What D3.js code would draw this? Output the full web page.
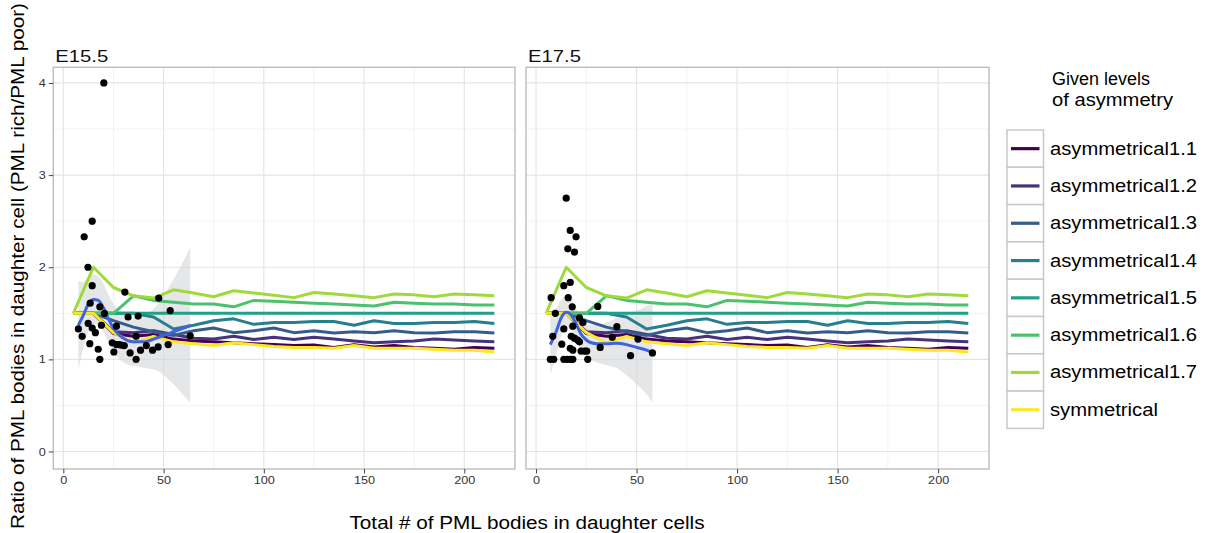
<!DOCTYPE html>
<html><head><meta charset="utf-8">
<script src="https://cdn.jsdelivr.net/npm/d3@7"></script>
<style>body{margin:0;background:#fff}svg{display:block}text{font-family:"Liberation Sans",Arial,sans-serif}</style>
</head><body><svg id="c" width="1207" height="533"></svg>
<script>
// ---------- data ----------
const totals = [5,15,25,35,45,55,65,75,85,95,105,115,125,135,145,155,165,175,185,195,205,215];
const seriesNames = ["asymmetrical1.1","asymmetrical1.2","asymmetrical1.3","asymmetrical1.4","asymmetrical1.5","asymmetrical1.6","asymmetrical1.7","symmetrical"];
const asym11 = [1.5,1.5,1.28,1.25,1.27,1.22,1.20,1.19,1.18,1.17,1.16,1.15,1.155,1.13,1.16,1.135,1.15,1.13,1.12,1.11,1.13,1.12];
const asym12 = [1.5,1.5,1.30,1.29,1.31,1.27,1.23,1.22,1.25,1.215,1.24,1.215,1.24,1.22,1.20,1.18,1.19,1.20,1.22,1.21,1.20,1.19];
const asym13 = [1.5,1.5,1.42,1.35,1.30,1.26,1.31,1.34,1.29,1.31,1.34,1.29,1.31,1.285,1.30,1.29,1.31,1.29,1.285,1.30,1.30,1.285];
const asym14 = [1.5,1.5,1.5,1.5,1.46,1.33,1.37,1.42,1.44,1.38,1.40,1.40,1.41,1.41,1.37,1.42,1.39,1.39,1.40,1.40,1.41,1.39];
const asym15 = [1.5,1.5,1.5,1.5,1.5,1.5,1.5,1.5,1.5,1.5,1.5,1.5,1.5,1.5,1.5,1.5,1.5,1.5,1.5,1.5,1.5,1.5];
const asym16 = [1.5,1.5,1.5,1.69,1.64,1.62,1.60,1.60,1.57,1.64,1.63,1.62,1.61,1.60,1.59,1.58,1.62,1.61,1.60,1.60,1.59,1.59];
const asym17 = [1.5,2.0,1.78,1.69,1.665,1.755,1.72,1.68,1.745,1.72,1.695,1.67,1.725,1.71,1.69,1.67,1.71,1.70,1.68,1.71,1.70,1.69];
const symm   = [1.5,1.5,1.29,1.18,1.25,1.19,1.17,1.15,1.18,1.16,1.14,1.13,1.13,1.12,1.15,1.12,1.12,1.12,1.11,1.10,1.10,1.08];
const seriesValues = [asym11,asym12,asym13,asym14,asym15,asym16,asym17,symm];
const seriesColors = ["#440154","#46337E","#365C8D","#277F8E","#1FA187","#4AC16D","#9FDA3A","#FDE725"];

const panelNames = ["E15.5","E17.5"];
// observed points (total, ratio)
const pointsE155 = [[7.5,1.33],[9.4,1.25],[10.4,2.33],[12.3,2.0],[12.4,1.39],[13.2,1.17],[13.4,1.61],[14.4,2.5],[14.4,1.80],[14.4,1.34],
  [16.0,1.29],[17.4,1.11],[18.2,1.0],[18.2,1.57],[19.0,1.37],[20.2,4.0],[20.5,1.5],[24.4,1.18],[25.2,1.08],[26.5,1.36],[26.5,1.16],
  [27.7,1.16],[29.0,1.155],[30.4,1.15],[30.7,1.73],[32.3,1.46],[33.3,1.07],[36.3,1.0],[36.3,1.25],[37.3,1.47],[38.5,1.10],[41.4,1.15],
  [44.5,1.10],[47.3,1.135],[47.6,1.665],[52.3,1.16],[53.3,1.53],[63.3,1.255]];
const pointsE175 = [[7.1,1.0],[7.5,1.67],[8.3,1.25],[8.8,1.0],[9.6,1.5],[12.8,1.165],[13.8,1.0],[13.8,1.33],[13.8,1.80],[15.0,2.75],
  [15.5,1.0],[15.8,2.20],[16.0,1.67],[17.0,2.40],[17.0,1.835],[17.0,1.12],[17.1,1.0],[17.5,1.25],[18.0,1.57],[18.3,1.36],[18.3,1.10],
  [18.3,1.0],[19.1,2.165],[19.1,1.23],[19.9,2.33],[20.7,1.21],[21.6,1.45],[21.6,1.19],[22.4,1.09],[23.3,1.40],[24.1,1.09],[25.2,1.09],
  [25.7,1.0],[30.7,1.575],[31.9,1.13],[37.9,1.24],[40.2,1.355],[47.0,1.04],[50.7,1.22],[57.9,1.07]];
// loess smooth with confidence band
const smoothXE155 = [7.5,10,12.5,15,17.5,20,22.5,25,27.5,30,32.5,35,37.5,40,42.5,45,47.5,50,52.5,55,57.5,60,63.3];
const smoothFitE155 = [1.37,1.48,1.60,1.65,1.64,1.56,1.44,1.34,1.27,1.23,1.20,1.19,1.19,1.19,1.20,1.22,1.24,1.26,1.28,1.30,1.32,1.34,1.37];
const smoothLoE155 = [0.89,1.12,1.30,1.38,1.38,1.30,1.18,1.08,1.01,0.97,0.94,0.93,0.92,0.91,0.90,0.89,0.87,0.83,0.78,0.73,0.67,0.61,0.53];
const smoothHiE155 = [1.85,1.84,1.90,1.92,1.90,1.82,1.70,1.60,1.53,1.49,1.46,1.45,1.46,1.47,1.50,1.55,1.61,1.69,1.78,1.87,1.97,2.07,2.21];
const smoothXE175 = [7.1,10,12.5,15,17.5,20,22.5,25,27.5,30,35,40,45,50,55,57.9];
const smoothFitE175 = [1.16,1.30,1.45,1.51,1.48,1.38,1.27,1.21,1.18,1.17,1.17,1.175,1.16,1.13,1.10,1.075];
const smoothLoE175 = [0.83,1.05,1.25,1.33,1.31,1.21,1.10,1.03,0.99,0.97,0.94,0.905,0.83,0.73,0.62,0.535];
const smoothHiE175 = [1.49,1.55,1.65,1.69,1.65,1.55,1.44,1.39,1.37,1.37,1.40,1.445,1.49,1.53,1.58,1.615];

const xTicks = [0,50,100,150,200];
const yTicks = [0,1,2,3,4];
const legendTitle = ["Given levels","of asymmetry"];
const xTitle = "Total # of PML bodies in daughter cells";
const yTitle = "Ratio of PML bodies in daughter cell (PML rich/PML poor)";

// ---------- drawing ----------
const svg = d3.select("#c");
const pTop = 67.3, pBottom = 469;
const y = d3.scaleLinear().domain([-0.19, 4.17]).range([pBottom, pTop]);
const panels = [
  {name: panelNames[0], x0: 53.3, x1: 515, pts: pointsE155, sx: smoothXE155, sf: smoothFitE155, lo: smoothLoE155, hi: smoothHiE155},
  {name: panelNames[1], x0: 526, x1: 989, pts: pointsE175, sx: smoothXE175, sf: smoothFitE175, lo: smoothLoE175, hi: smoothHiE175}
];
const HS = 1.15; // horizontal stretch of tick glyphs

function stretch(sel, factor){
  sel.each(function(){
    const w = this.getComputedTextLength();
    d3.select(this).attr("textLength", w*factor).attr("lengthAdjust","spacingAndGlyphs");
  });
}

panels.forEach((p, pi) => {
  const x = d3.scaleLinear().domain([-5, 225.3]).range([p.x0, p.x1]);
  const g = svg.append("g");
  // minor grid
  [25,75,125,175].forEach(v => g.append("line").attr("x1",x(v)).attr("x2",x(v)).attr("y1",pTop).attr("y2",pBottom).attr("stroke","#f3f3f3").attr("stroke-width",1));
  [0.5,1.5,2.5,3.5].forEach(v => g.append("line").attr("x1",p.x0).attr("x2",p.x1).attr("y1",y(v)).attr("y2",y(v)).attr("stroke","#f3f3f3").attr("stroke-width",1));
  // major grid
  xTicks.forEach(v => g.append("line").attr("x1",x(v)).attr("x2",x(v)).attr("y1",pTop).attr("y2",pBottom).attr("stroke","#e5e5e5").attr("stroke-width",1.2));
  yTicks.forEach(v => g.append("line").attr("x1",p.x0).attr("x2",p.x1).attr("y1",y(v)).attr("y2",y(v)).attr("stroke","#e5e5e5").attr("stroke-width",1.2));

  // ribbon
  const band = p.sx.map((v,i)=>({x:v, lo:p.lo[i], hi:p.hi[i], f:p.sf[i]}));
  g.append("path").datum(band)
    .attr("d", d3.area().curve(d3.curveMonotoneX).x(d=>x(d.x)).y0(d=>y(d.lo)).y1(d=>y(d.hi)))
    .attr("fill","#d3d5d8").attr("fill-opacity",0.6);

  // series lines
  seriesValues.forEach((vals, si) => {
    g.append("path").datum(totals.map((t,i)=>[t, vals[i]]))
      .attr("d", d3.line().x(d=>x(d[0])).y(d=>y(d[1])))
      .attr("fill","none").attr("stroke",seriesColors[si]).attr("stroke-width",3).attr("stroke-linejoin","round");
  });

  // smooth line (on top of the series lines)
  g.append("path").datum(band)
    .attr("d", d3.line().curve(d3.curveMonotoneX).x(d=>x(d.x)).y(d=>y(d.f)))
    .attr("fill","none").attr("stroke","#3d63e0").attr("stroke-width",3);

  // points
  g.selectAll("circle.pt").data(p.pts).join("circle").attr("class","pt")
    .attr("cx", d=>x(d[0])).attr("cy", d=>y(d[1])).attr("r", 3.6).attr("fill","#000");

  // panel border
  g.append("rect").attr("x",p.x0).attr("y",pTop).attr("width",p.x1-p.x0).attr("height",pBottom-pTop)
    .attr("fill","none").attr("stroke","#bdbdbd").attr("stroke-width",1.4);

  // x axis
  const xa = svg.append("g").attr("transform",`translate(0,${pBottom})`)
    .call(d3.axisBottom(x).tickValues(xTicks).tickSize(4.5).tickPadding(2.5).tickFormat(d3.format("d")));
  xa.select(".domain").remove();
  xa.selectAll("line").attr("stroke","#444").attr("stroke-width",1);
  xa.selectAll("text").attr("font-size","11px").attr("fill","#333").attr("font-family",'"Liberation Sans",Arial,sans-serif');
  stretch(xa.selectAll("text"), HS);

  if (pi === 0) {
    const ya = svg.append("g").attr("transform",`translate(${p.x0},0)`)
      .call(d3.axisLeft(y).tickValues(yTicks).tickSize(4.5).tickPadding(3).tickFormat(d3.format("d")));
    ya.select(".domain").remove();
    ya.selectAll("line").attr("stroke","#444").attr("stroke-width",1);
    ya.selectAll("text").attr("font-size","11px").attr("fill","#333").attr("font-family",'"Liberation Sans",Arial,sans-serif');
    stretch(ya.selectAll("text"), HS);
  }

  // strip label
  svg.append("text").attr("x", p.x0 + 2).attr("y", 62).attr("font-size","17px").attr("fill","#111")
    .text(p.name).attr("textLength", 53).attr("lengthAdjust","spacingAndGlyphs");
});

// axis titles
svg.append("text").attr("x", 527).attr("y", 529).attr("text-anchor","middle").attr("font-size","17.5px").attr("fill","#000")
  .text(xTitle).attr("textLength",355).attr("lengthAdjust","spacingAndGlyphs");
svg.append("text").attr("transform","translate(24,266) rotate(-90)").attr("text-anchor","middle").attr("font-size","17.5px").attr("fill","#000")
  .text(yTitle).attr("textLength",526).attr("lengthAdjust","spacingAndGlyphs");

// legend
svg.append("text").attr("x",1052).attr("y",85).attr("font-size","17.5px").attr("fill","#000").text(legendTitle[0]).attr("textLength",98).attr("lengthAdjust","spacingAndGlyphs");
svg.append("text").attr("x",1052).attr("y",106).attr("font-size","17.5px").attr("fill","#000").text(legendTitle[1]).attr("textLength",121).attr("lengthAdjust","spacingAndGlyphs");
const keyX = 1007, keyW = 36.5, keyY = 130, keyH = 37.3;
const lg = svg.append("g");
seriesNames.forEach((n, i) => {
  const yy = keyY + i*keyH;
  lg.append("rect").attr("x",keyX).attr("y",yy).attr("width",keyW).attr("height",keyH).attr("fill","#fff").attr("stroke","#c8c8c8").attr("stroke-width",1.5);
  lg.append("line").attr("x1",keyX+4).attr("x2",keyX+keyW-4).attr("y1",yy+keyH/2).attr("y2",yy+keyH/2).attr("stroke",seriesColors[i]).attr("stroke-width",3.2);
  lg.append("text").attr("x",1050).attr("y",yy+keyH/2+6).attr("font-size","17.5px").attr("fill","#000")
    .text(n).attr("textLength", n === "symmetrical" ? 108 : 147).attr("lengthAdjust","spacingAndGlyphs");
});
</script></body></html>
